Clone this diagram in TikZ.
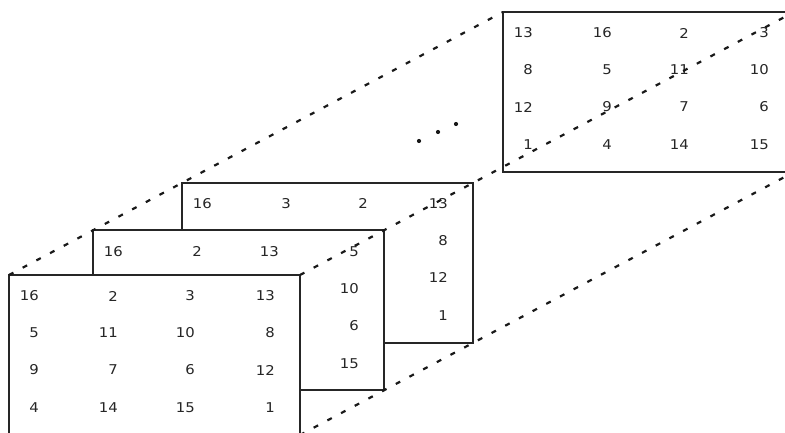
\documentclass[tikz,border=0pt]{standalone}
\usepackage{fontspec}
\setmainfont{DejaVu Sans}[FakeStretch=1.1]
\begin{document}
\begin{tikzpicture}[x=1pt,y=-1pt,
  box/.style={draw=black!85, line width=2pt, fill=white, minimum width=291pt, minimum height=160pt, anchor=north west, inner sep=0pt, outer sep=0pt},
  num/.style={anchor=east, inner sep=0pt, font=\fontsize{13.5}{15}\selectfont, text=black!85},
  dashline/.style={line width=2.2pt, dash pattern=on 5pt off 10.5pt, black!90},
  dotmark/.style={fill=black!90}]
\useasboundingbox (0,0) rectangle (785,433);
\clip (0,0) rectangle (785,433);
% back box
\node[box] (B4) at (503,12) {};
\foreach \v [count=\i from 0] in {13,16,2,3,8,5,11,10,12,9,7,6,1,4,14,15} {
  \pgfmathsetmacro\cx{{30,109,186,266}[mod(\i,4)]}
  \pgfmathsetmacro\cy{{21,58,95,133}[int(\i/4)]}
  \node[num] (d-\i) at ([shift={(\cx pt,-\cy pt)}]B4.north west) {\v};
}
% third box
\node[box] (B3) at (182,182.9) {};
\foreach \i/\v in {0/16,1/3,2/2,3/13,7/8,11/12,15/1} {
  \pgfmathsetmacro\cx{{30,109,186,266}[mod(\i,4)]}
  \pgfmathsetmacro\cy{{21,58,95,133}[int(\i/4)]}
  \node[num] (c-\i) at ([shift={(\cx pt,-\cy pt)}]B3.north west) {\v};
}
% second box
\node[box] (B2) at (93,230.3) {};
\foreach \i/\v in {0/16,1/2,2/13,3/5,7/10,11/6,15/15} {
  \pgfmathsetmacro\cx{{30,109,186,266}[mod(\i,4)]}
  \pgfmathsetmacro\cy{{21,58,95,133}[int(\i/4)]}
  \node[num] (b-\i) at ([shift={(\cx pt,-\cy pt)}]B2.north west) {\v};
}
% front box
\node[box] (B1) at (9,275) {};
\foreach \v [count=\i from 0] in {16,2,3,13,5,11,10,8,9,7,6,12,4,14,15,1} {
  \pgfmathsetmacro\cx{{30,109,186,266}[mod(\i,4)]}
  \pgfmathsetmacro\cy{{21,58,95,133}[int(\i/4)]}
  \node[num] (a-\i) at ([shift={(\cx pt,-\cy pt)}]B1.north west) {\v};
}
% connecting dashed lines
\draw[dashline] (B1.north west) -- (B4.north west);
\draw[dashline] (B1.north east) -- (B4.north east);
\draw[dashline] (B1.south east) -- (B4.south east);
% ellipsis dots
\fill[dotmark] (419,141) circle (2.1pt);
\fill[dotmark] (438,132) circle (2.1pt);
\fill[dotmark] (456,124) circle (2.1pt);
\end{tikzpicture}
\end{document}
